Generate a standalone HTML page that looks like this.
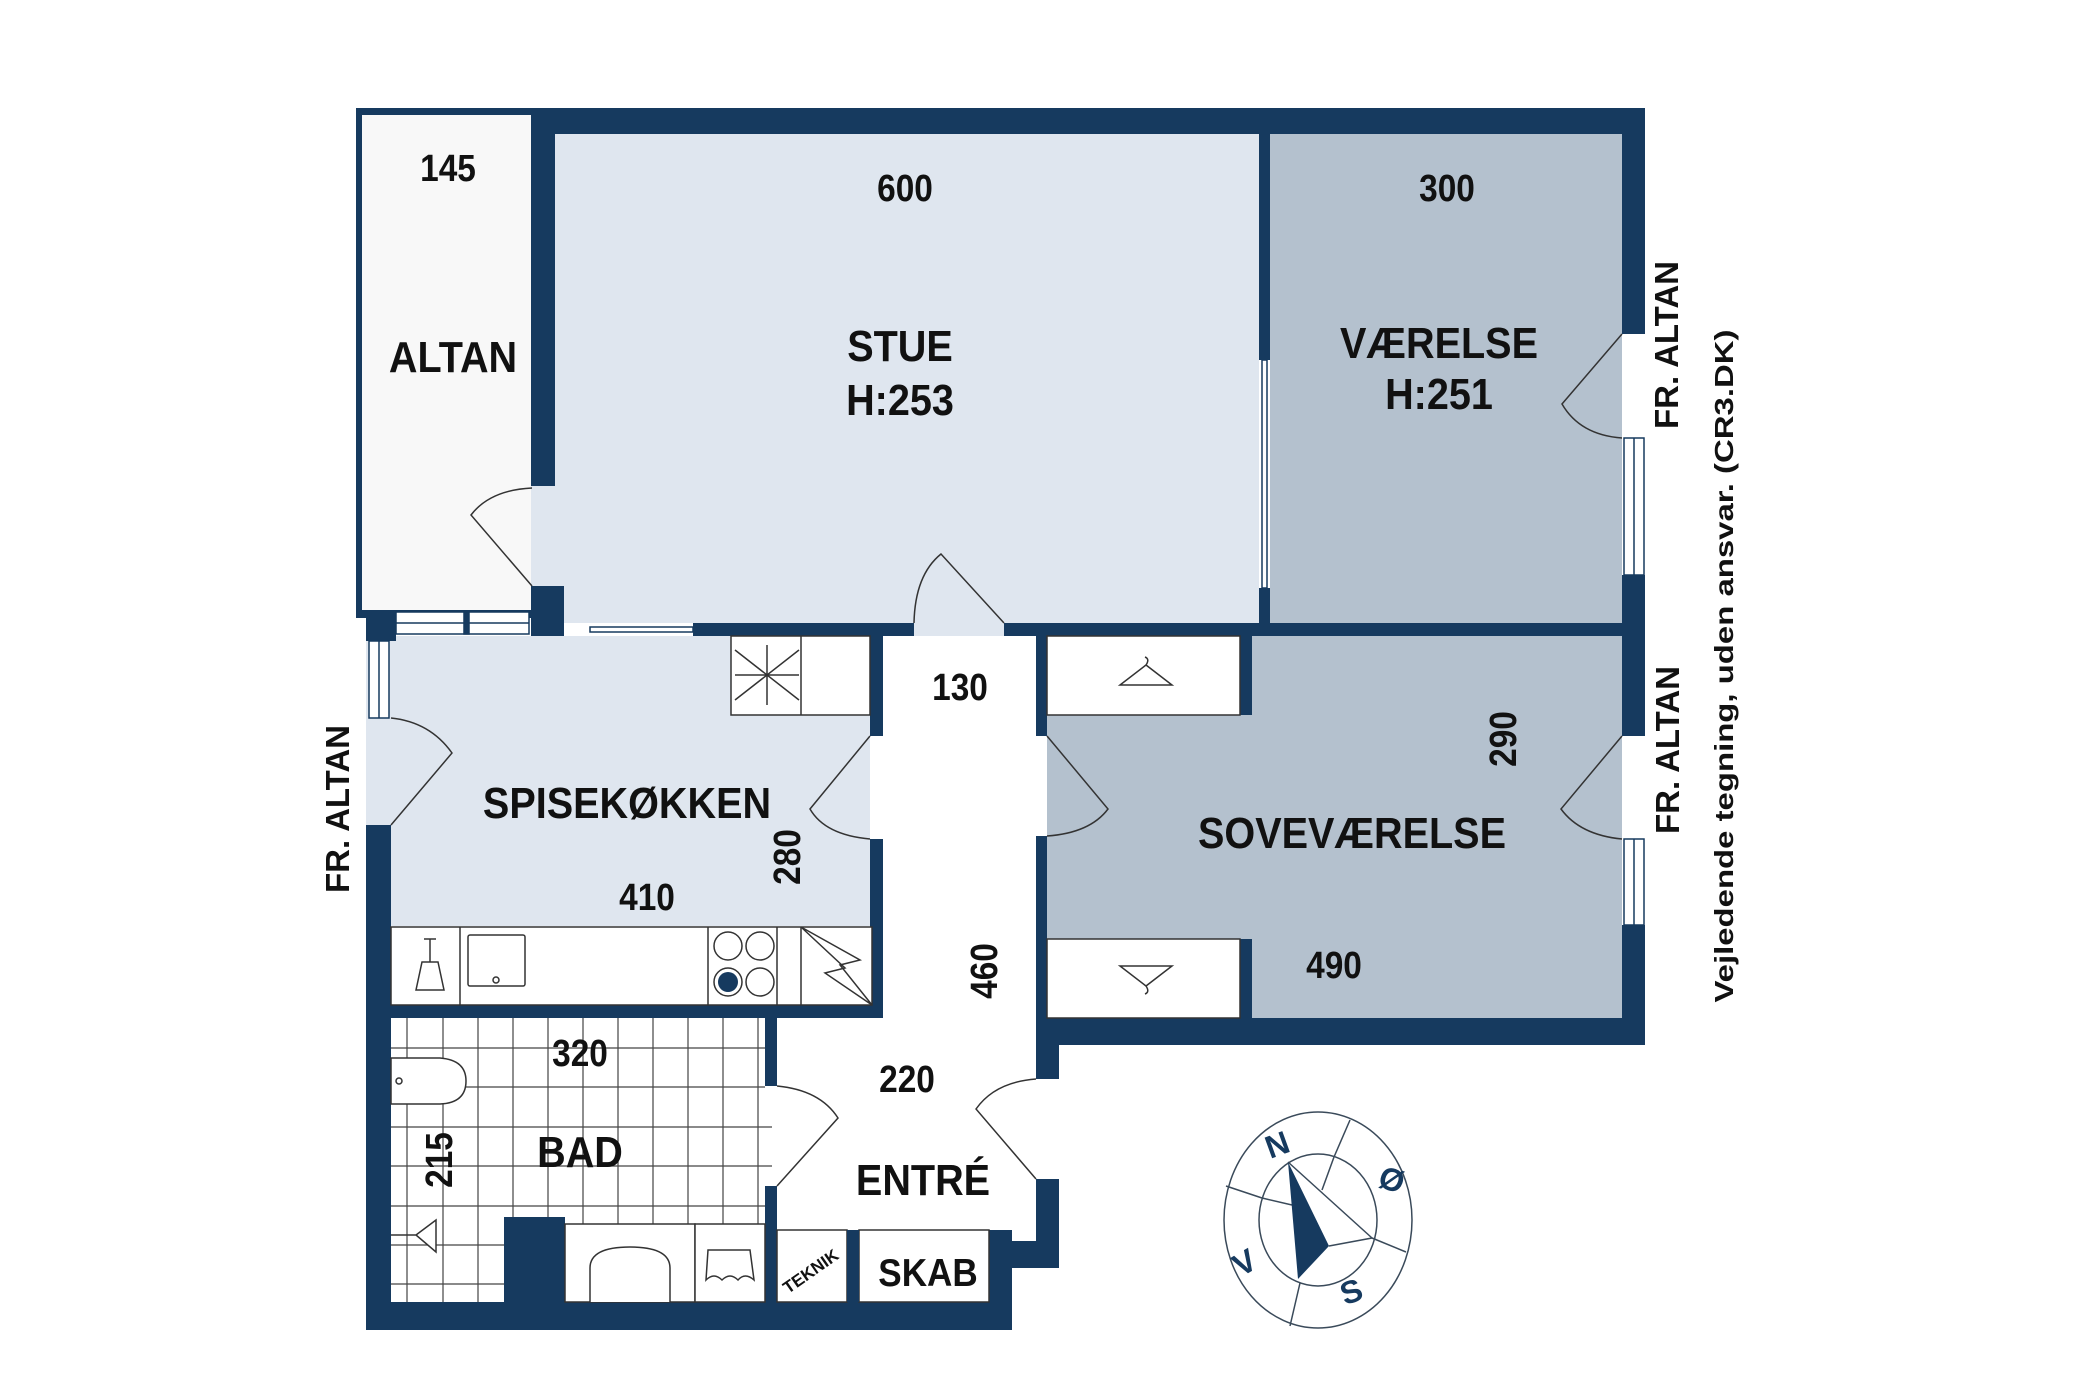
<!DOCTYPE html>
<html><head><meta charset="utf-8"><style>
html,body{margin:0;padding:0;background:#fff;}
svg{display:block;}
.t{font-family:"Liberation Sans",sans-serif;font-weight:bold;fill:#111;}
</style></head><body>
<svg width="2100" height="1400" viewBox="0 0 2100 1400" xmlns="http://www.w3.org/2000/svg">
<rect width="2100" height="1400" fill="#fff"/>
<rect x="356" y="108" width="180" height="510" fill="#163a5f"/>
<rect x="362" y="115" width="169" height="495" fill="#f8f8f8"/>
<rect x="531" y="134" width="728" height="489" fill="#dfe6ef"/>
<rect x="1270" y="134" width="352" height="489" fill="#b4c1ce"/>
<rect x="366" y="636" width="504" height="290" fill="#dfe6ef"/>
<rect x="1047" y="636" width="575" height="382" fill="#b4c1ce"/>
<rect x="883" y="636" width="153" height="605" fill="#fff"/>
<rect x="914" y="623" width="90" height="13" fill="#dfe6ef"/>
<rect x="1622" y="334" width="23" height="104" fill="#fff"/>
<rect x="1622" y="736" width="23" height="103" fill="#fff"/>
<rect x="391" y="1018" width="374" height="284" fill="#fff"/>
<g stroke="#444" stroke-width="1.2">
<line x1="407" y1="1018" x2="407" y2="1302"/><line x1="443" y1="1018" x2="443" y2="1302"/>
<line x1="478" y1="1018" x2="478" y2="1302"/><line x1="513" y1="1018" x2="513" y2="1217"/>
<line x1="548" y1="1018" x2="548" y2="1217"/><line x1="583" y1="1018" x2="583" y2="1224"/>
<line x1="618" y1="1018" x2="618" y2="1224"/><line x1="653" y1="1018" x2="653" y2="1224"/>
<line x1="688" y1="1018" x2="688" y2="1224"/><line x1="723" y1="1018" x2="723" y2="1224"/>
<line x1="758" y1="1018" x2="758" y2="1224"/>
<line x1="391" y1="1048" x2="765" y2="1048"/><line x1="391" y1="1087" x2="765" y2="1087"/>
<line x1="391" y1="1127" x2="772" y2="1127"/><line x1="391" y1="1166" x2="772" y2="1166"/>
<line x1="391" y1="1206" x2="765" y2="1206"/><line x1="391" y1="1245" x2="504" y2="1245"/>
<line x1="391" y1="1284" x2="504" y2="1284"/>
</g>

<g fill="#163a5f">
<rect x="531" y="108" width="1114" height="26"/>
<rect x="531" y="108" width="24" height="378"/>
<rect x="531" y="586" width="33" height="50"/>
<rect x="1622" y="108" width="23" height="226"/>
<rect x="1622" y="575" width="23" height="61"/>
<rect x="1259" y="134" width="11" height="226"/>
<rect x="1259" y="588" width="11" height="35"/>
<rect x="693" y="623" width="221" height="13"/>
<rect x="1004" y="623" width="641" height="13"/>
<rect x="366" y="610" width="30" height="31"/>
<rect x="366" y="825" width="25" height="505"/>
<rect x="870" y="636" width="13" height="100"/>
<rect x="870" y="839" width="13" height="179"/>
<rect x="391" y="1005" width="492" height="13"/>
<rect x="765" y="1018" width="12" height="68"/>
<rect x="765" y="1186" width="12" height="116"/>
<rect x="366" y="1302" width="646" height="28"/>
<rect x="989" y="1230" width="23" height="100"/>
<rect x="1012" y="1241" width="46" height="27"/>
<rect x="1036" y="636" width="11" height="100"/>
<rect x="1036" y="836" width="11" height="182"/>
<rect x="1036" y="1018" width="23" height="61"/>
<rect x="1036" y="1179" width="23" height="89"/>
<rect x="1036" y="1018" width="609" height="27"/>
<rect x="1622" y="636" width="23" height="100"/>
<rect x="1622" y="925" width="23" height="120"/>
<rect x="1240" y="636" width="12" height="79"/>
<rect x="1240" y="939" width="12" height="79"/>
<rect x="504" y="1217" width="61" height="85"/>
</g>
<g fill="#fff" stroke="#163a5f" stroke-width="1.5">
<rect x="396" y="612" width="133" height="22"/>
<line x1="396" y1="623" x2="529" y2="623"/>
<rect x="464" y="612" width="5" height="22" fill="#163a5f"/>
<rect x="369" y="641" width="20" height="77"/>
<line x1="379" y1="641" x2="379" y2="718"/>
<rect x="1624" y="438" width="20" height="137"/>
<line x1="1634" y1="438" x2="1634" y2="575"/>
<rect x="1624" y="839" width="20" height="86"/>
<line x1="1634" y1="839" x2="1634" y2="925"/>
<rect x="1262" y="360" width="5" height="228"/>
<rect x="590" y="627" width="103" height="5"/>
</g>
<g fill="none" stroke="#333" stroke-width="1.5">
<path d="M532,488 Q490,490 471,515 L532,586"/>
<path d="M914,623 Q915,575 941,554 L1004,623"/>
<path d="M1622,334 L1562,404 Q1580,435 1622,438"/>
<path d="M391,825 L452,753 Q430,722 391,718"/>
<path d="M870,736 L810,809 Q825,835 870,839"/>
<path d="M1047,736 L1108,809 Q1090,833 1047,836"/>
<path d="M1622,736 L1561,809 Q1580,835 1622,839"/>
<path d="M777,1186 L838,1118 Q820,1090 777,1086"/>
<path d="M1036,1179 L976,1109 Q995,1082 1036,1079"/>
</g>
<g fill="#fff" stroke="#333" stroke-width="1.5">
<rect x="731" y="636" width="139" height="79"/>
<line x1="801" y1="636" x2="801" y2="715"/>
<rect x="391" y="927" width="481" height="78"/>
<line x1="460" y1="927" x2="460" y2="1005"/>
<line x1="708" y1="927" x2="708" y2="1005"/>
<line x1="777" y1="927" x2="777" y2="1005"/>
<line x1="801" y1="927" x2="801" y2="1005"/>
<rect x="468" y="935" width="57" height="51" rx="2"/>
<circle cx="496" cy="980" r="3"/>
<circle cx="728" cy="946" r="14"/><circle cx="760" cy="946" r="14"/>
<circle cx="760" cy="982" r="14"/>
<path d="M801,927 L860,960 L840,965 L872,1005 L825,973 L845,968 Z" fill="none"/>
<path d="M424,939 L436,939 M430,939 L430,962 M422,962 L438,962 L444,990 L416,990 Z" fill="none"/>
<path d="M735,650 L799,700 M799,650 L735,700 M767,645 L767,705 M735,675 L799,675" fill="none"/>
</g>
<circle cx="728" cy="982" r="14" fill="#fff" stroke="#333" stroke-width="1.5"/>
<circle cx="728" cy="982" r="10" fill="#163a5f"/>
<g fill="#fff" stroke="#333" stroke-width="1.5">
<path d="M391,1058 L440,1058 Q466,1060 466,1081 Q466,1103 440,1104 L391,1104 Z"/>
<circle cx="399" cy="1081" r="3"/>
<path d="M391,1235 L416,1235 M416,1235 L436,1220 L436,1252 Z"/>
<rect x="565" y="1224" width="130" height="78"/>
<rect x="695" y="1224" width="70" height="78"/>
<path d="M590,1302 L590,1268 Q590,1247 630,1247 Q670,1247 670,1268 L670,1302"/>
<path d="M708,1250 L750,1250 L754,1280 Q745,1272 738,1280 Q730,1272 722,1280 Q714,1272 706,1280 Z"/>
<rect x="777" y="1230" width="70" height="72"/>
<rect x="859" y="1230" width="130" height="72"/>
</g>
<rect x="847" y="1230" width="12" height="72" fill="#163a5f"/>
<g fill="#fff" stroke="#333" stroke-width="1.5">
<rect x="1047" y="636" width="193" height="79"/>
<rect x="1047" y="939" width="193" height="79"/>
<path d="M1146,665 q4,-6 -1,-8 M1146,665 L1120,685 L1172,685 Z"/>
<path d="M1146,986 q4,6 -1,8 M1146,986 L1120,966 L1172,966 Z"/>
</g>
<g fill="none" stroke="#3a4a5a" stroke-width="1.5">
<ellipse cx="1318" cy="1220" rx="94" ry="108"/>
<ellipse cx="1318" cy="1220" rx="59" ry="66"/>
<line x1="1334" y1="1157" x2="1350" y2="1120"/>
<line x1="1372" y1="1238" x2="1406" y2="1252"/>
<line x1="1300" y1="1283" x2="1290" y2="1326"/>
<line x1="1262" y1="1198" x2="1226" y2="1186"/>
<path d="M1288,1162 L1372,1238 L1329,1246"/>
<path d="M1262,1198 L1292,1205"/>
<path d="M1334,1157 L1322,1190"/>
</g>
<polygon points="1288,1162 1329,1246 1298,1279" fill="#163a5f"/>
<g fill="#163a5f" font-family="Liberation Sans,sans-serif" font-weight="bold" font-size="32" text-anchor="middle">
<text transform="translate(1281,1155) rotate(-20)">N</text>
<text transform="translate(1388,1190) rotate(20)">Ø</text>
<text transform="translate(1355,1302) rotate(-20)">S</text>
<text transform="translate(1250,1272) rotate(-30)">V</text>
</g>
<g class="t" font-size="38" text-anchor="middle">
<text transform="translate(448,181) scale(.88,1)">145</text>
<text transform="translate(905,201) scale(.88,1)">600</text>
<text transform="translate(1447,201) scale(.88,1)">300</text>
<text transform="translate(960,700) scale(.88,1)">130</text>
<text transform="translate(647,910) scale(.88,1)">410</text>
<text transform="translate(580,1066) scale(.88,1)">320</text>
<text transform="translate(907,1092) scale(.88,1)">220</text>
<text transform="translate(1334,978) scale(.88,1)">490</text>
<text transform="translate(787,857) rotate(-90) scale(.88,1)" dy="13">280</text>
<text transform="translate(984,971) rotate(-90) scale(.88,1)" dy="13">460</text>
<text transform="translate(439,1160) rotate(-90) scale(.88,1)" dy="13">215</text>
<text transform="translate(1503,739) rotate(-90) scale(.88,1)" dy="13">290</text>
</g>
<g class="t" font-size="44" text-anchor="middle">
<text transform="translate(453,372) scale(.9,1)">ALTAN</text>
<text transform="translate(900,361) scale(.9,1)">STUE</text>
<text transform="translate(900,415) scale(.9,1)">H:253</text>
<text transform="translate(1439,358) scale(.9,1)">VÆRELSE</text>
<text transform="translate(1439,409) scale(.9,1)">H:251</text>
<text transform="translate(627,818) scale(.9,1)">SPISEKØKKEN</text>
<text transform="translate(580,1167) scale(.9,1)">BAD</text>
<text transform="translate(923,1195) scale(.9,1)">ENTRÉ</text>
<text transform="translate(1352,848) scale(.9,1)">SOVEVÆRELSE</text>
<text transform="translate(928,1286) scale(.9,1)" font-size="39">SKAB</text>
</g>
<text class="t" font-size="17" text-anchor="middle" transform="translate(814,1276) rotate(-35)">TEKNIK</text>
<g class="t" font-size="33" text-anchor="middle">
<text transform="translate(1667,345) rotate(-90)" dy="11">FR. ALTAN</text>
<text transform="translate(1668,750) rotate(-90)" dy="11">FR. ALTAN</text>
<text transform="translate(338,809) rotate(-90)" dy="11">FR. ALTAN</text>
</g>
<text class="t" font-size="26" text-anchor="middle" textLength="673" lengthAdjust="spacingAndGlyphs" transform="translate(1724,666) rotate(-90)" dy="9">Vejledende tegning, uden ansvar. (CR3.DK)</text>
</svg>
</body></html>
